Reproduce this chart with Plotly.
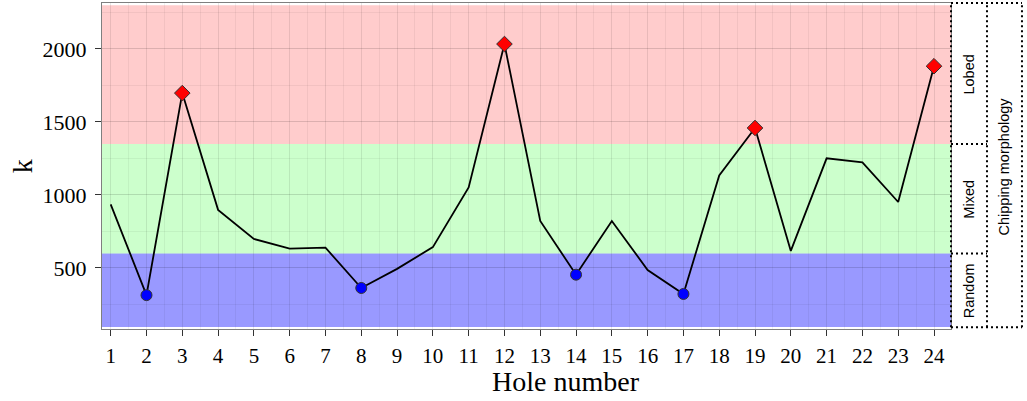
import plotly.graph_objects as go

holes = list(range(1, 25))
k_values = [936, 314, 1698, 898, 699, 632, 639, 363, 494, 643, 1052, 2034,
            822, 454, 822, 486, 322, 1134, 1459, 617, 1251, 1224, 952, 1882]

lobed_holes = [3, 12, 19, 24]
random_holes = [2, 8, 14, 17]

band_names = ["Random", "Mixed", "Lobed"]
band_lo = [95, 600, 1350]
band_hi = [600, 1350, 2300]
band_colors = ["rgba(0,0,255,0.4)", "rgba(0,255,0,0.2)", "rgba(255,0,0,0.2)"]

y_ticks = [500, 1000, 1500, 2000]
x_range = [0.757, 24.475]
y_range = [82, 2315]

SERIF = "Liberation Serif"
SANS = "Liberation Sans"

fig = go.Figure()

fig.add_trace(go.Scatter(
    x=holes, y=k_values, mode="lines",
    line=dict(color="black", width=1.8), showlegend=False, hoverinfo="skip"))

fig.add_trace(go.Scatter(
    x=lobed_holes, y=[k_values[h - 1] for h in lobed_holes], mode="markers",
    marker=dict(symbol="diamond", size=12, color="#FF0000",
                line=dict(color="#333333", width=1)),
    showlegend=False))

fig.add_trace(go.Scatter(
    x=random_holes, y=[k_values[h - 1] for h in random_holes], mode="markers",
    marker=dict(symbol="circle", size=11, color="#0000FF",
                line=dict(color="#333333", width=1)),
    showlegend=False))

shapes = []
for lo, hi, col in zip(band_lo, band_hi, band_colors):
    shapes.append(dict(type="rect", xref="paper", yref="y", x0=0, x1=1,
                       y0=lo, y1=hi, fillcolor=col, line=dict(width=0),
                       layer="below"))

# facet strip geometry (paper coords)
sx0, sx1, sx2 = 1.0, 1.0424, 1.0836
dot = dict(color="black", width=2, dash="2px,3px")
for xv in (sx0, sx1, sx2):
    shapes.append(dict(type="line", xref="paper", yref="paper",
                       x0=xv, x1=xv, y0=0.005, y1=1, line=dot))
for yv in (0.005, 1):
    shapes.append(dict(type="line", xref="paper", yref="paper",
                       x0=sx0, x1=sx2, y0=yv, y1=yv, line=dot))
for yv in band_lo[1:]:
    shapes.append(dict(type="line", xref="paper", yref="y",
                       x0=sx0, x1=sx1, y0=yv, y1=yv, line=dot))

annotations = []
for name, lo, hi in zip(band_names, band_lo, band_hi):
    lo2 = max(lo, y_range[0])
    hi2 = min(hi, y_range[1])
    annotations.append(dict(text=name, xref="paper", yref="y",
                            x=(sx0 + sx1) / 2, y=(lo2 + hi2) / 2,
                            xanchor="center", yanchor="middle",
                            showarrow=False, textangle=-90,
                            font=dict(family=SANS, size=14.5, color="black")))
annotations.append(dict(text="Chipping morphology", xref="paper", yref="paper",
                        x=(sx1 + sx2) / 2, y=0.5, xanchor="center",
                        yanchor="middle", showarrow=False, textangle=-90,
                        font=dict(family=SANS, size=14.5, color="black")))
annotations.append(dict(text="Hole number", xref="paper", yref="paper",
                        x=0.5465, y=-0.16, yanchor="middle", showarrow=False,
                        font=dict(family=SERIF, size=28, color="black")))
annotations.append(dict(text="k", xref="paper", yref="paper",
                        x=-0.094, y=0.5, xanchor="center", showarrow=False,
                        textangle=-90,
                        font=dict(family=SERIF, size=28, color="black")))

fig.update_layout(
    width=1027, height=401,
    margin=dict(l=102, r=76, t=3, b=72),
    paper_bgcolor="white", plot_bgcolor="white",
    shapes=shapes, annotations=annotations,
    xaxis=dict(range=x_range, tickmode="array", tickvals=holes,
               ticktext=[str(h) for h in holes],
               showgrid=True, gridcolor="rgba(0,0,0,0.09)", gridwidth=1,
               minor=dict(dtick=1, tick0=0.5, showgrid=True,
                          gridcolor="rgba(0,0,0,0.05)", gridwidth=1),
               showline=True, linecolor="#7F7F7F", linewidth=1, mirror=True,
               ticks="outside", ticklen=6, tickcolor="#333333", tickwidth=1,
               ticklabelstandoff=2,
               tickfont=dict(family=SERIF, size=21, color="black"),
               zeroline=False),
    yaxis=dict(range=y_range, tickmode="array", tickvals=y_ticks,
               showgrid=True, gridcolor="rgba(0,0,0,0.09)", gridwidth=1,
               minor=dict(dtick=250, tick0=250, showgrid=True,
                          gridcolor="rgba(0,0,0,0.05)", gridwidth=1),
               showline=True, linecolor="#7F7F7F", linewidth=1, mirror=True,
               ticks="outside", ticklen=6, tickcolor="#333333", tickwidth=1,
               ticklabelstandoff=4,
               tickfont=dict(family=SERIF, size=22, color="black"),
               zeroline=False),
)

fig.write_html("out.html")
